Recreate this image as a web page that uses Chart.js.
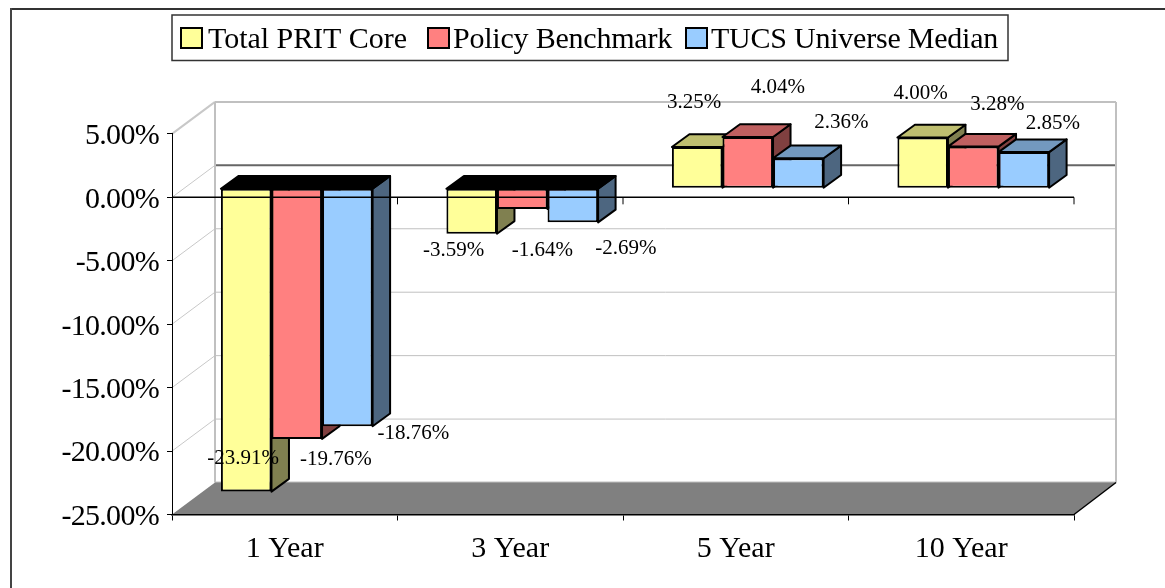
<!DOCTYPE html>
<html><head><meta charset="utf-8">
<style>html,body{margin:0;padding:0;background:#fff}canvas{display:block}</style>
<script src="https://cdn.jsdelivr.net/npm/chart.js@4/dist/chart.umd.min.js"></script>
</head><body>
<canvas id="c" width="1165" height="588"></canvas>
<script>
const categories = ['1 Year', '3 Year', '5 Year', '10 Year'];
const totalPritCore = [-23.91, -3.59, 3.25, 4.00];
const policyBenchmark = [-19.76, -1.64, 4.04, 3.28];
const tucsUniverseMedian = [-18.76, -2.69, 2.36, 2.85];
const seriesNames = ['Total PRIT Core', 'Policy Benchmark', 'TUCS Universe Median'];

const FONT = '"Liberation Serif", "Times New Roman", serif';
const fronts = ['#FFFF99', '#FF8080', '#99CCFF'];
const tops = ['#BFBF70', '#BF6060', '#7399BF'];
const sides = ['#808050', '#804040', '#4D6680'];
const WALL = {dx: 43, dy: -32};          // depth of the whole plot box
const SHIFT = {dx: 12, dy: -9.1};        // where the bars stand inside the box
const DEPTH = {dx: 17.5, dy: -12.7};     // depth of a bar
const labelNudge = [
  [[-3,-35],[-18,15],[-3,-46],[-2,-46]],
  [[39,19],[20,40],[30,-51],[24,-44]],
  [[66,6],[53,25],[43,-37],[29,-30]]
];
const legendSlots = [
  {box:181, text:208, end:407},
  {box:428, text:453, end:672},
  {box:686, text:711, end:998}
];

function poly(ctx, pts, fill, stroke, lw) {
  ctx.beginPath();
  pts.forEach((p, i) => i ? ctx.lineTo(p[0], p[1]) : ctx.moveTo(p[0], p[1]));
  ctx.closePath();
  if (fill) { ctx.fillStyle = fill; ctx.fill(); }
  if (stroke) { ctx.strokeStyle = stroke; ctx.lineWidth = lw; ctx.stroke(); }
}
function line(ctx, x1, y1, x2, y2, col, lw) {
  ctx.beginPath(); ctx.moveTo(x1, y1); ctx.lineTo(x2, y2);
  ctx.strokeStyle = col; ctx.lineWidth = lw; ctx.stroke();
}
function tweakLabels(scale, spacing, down) {
  if (scale._tweaked) return;
  scale._tweaked = true;
  const orig = scale.drawLabels;
  scale.drawLabels = function (area) {
    const ctx = this.ctx;
    ctx.save();
    ctx.letterSpacing = spacing;
    ctx.translate(0, down);
    orig.call(this, area);
    ctx.restore();
  };
}

const box3d = {
  id: 'box3d',
  beforeDraw(chart) {
    const {ctx, chartArea: a, scales: {x, y}} = chart;
    tweakLabels(y, '-0.7px', 2.5);
    tweakLabels(x, '0px', 3);
    ctx.save();
    // page frame
    line(ctx, 11, 9, 1165, 9, '#333', 2);
    line(ctx, 11, 8, 11, 588, '#444', 2);
    const L = a.left + WALL.dx, R = a.right + WALL.dx - 1;
    // gridlines on back and side wall
    y.ticks.forEach(t => {
      const py = y.getPixelForValue(t.value);
      if (t.value === y.min) return;
      const top = t.value === y.max;
      const zero = t.value === 0;
      line(ctx, L, py + WALL.dy, R, py + WALL.dy, zero ? '#666' : '#C0C0C0', top || zero ? 2 : 1);
      line(ctx, a.left, py, L, py + WALL.dy, '#C8C8C8', top ? 2 : 1);
    });
    const wt = y.getPixelForValue(y.max) + WALL.dy, wb = y.getPixelForValue(y.min) + WALL.dy;
    line(ctx, L, wt, L, wb, '#C0C0C0', 2);
    line(ctx, R, wt, R, wb, '#C0C0C0', 2);
    // floor
    const fy = y.getPixelForValue(y.min);
    line(ctx, L, wb, R, wb, '#C0C0C0', 2);
    poly(ctx, [[a.left, fy], [L, wb], [R, wb], [a.right, fy]], '#808080');
    line(ctx, a.right, fy, R, wb, '#000', 1.5);
    ctx.restore();

    // legend
    ctx.save();
    ctx.strokeStyle = '#333'; ctx.lineWidth = 1.5;
    ctx.strokeRect(172, 15, 836, 45.5);
    ctx.font = '30px ' + FONT; ctx.fillStyle = '#000';
    ctx.textBaseline = 'middle'; ctx.textAlign = 'left';
    chart.data.datasets.forEach((ds, i) => {
      const s = legendSlots[i];
      ctx.fillStyle = fronts[i]; ctx.fillRect(s.box, 28, 21, 20);
      ctx.strokeStyle = '#000'; ctx.lineWidth = 2; ctx.strokeRect(s.box, 28, 21, 20);
      ctx.letterSpacing = '0px';
      const w = ctx.measureText(ds.label).width;
      ctx.letterSpacing = ((s.end - s.text - w) / ds.label.length).toFixed(3) + 'px';
      ctx.fillStyle = '#000';
      ctx.fillText(ds.label, s.text, 40);
    });
    ctx.restore();
  },
  beforeDatasetsDraw(chart) {
    const ctx = chart.ctx;
    ctx.save();
    ctx.translate(SHIFT.dx, SHIFT.dy);
    ctx.lineJoin = 'round';
    chart.data.datasets.forEach((ds, i) => {
      chart.getDatasetMeta(i).data.forEach((el, j) => {
        const r = el.x + el.width / 2, l = el.x - el.width / 2;
        const t = Math.min(el.y, el.base), b = Math.max(el.y, el.base);
        const neg = ds.data[j] < 0;
        poly(ctx, [[r, t], [r + DEPTH.dx, t + DEPTH.dy], [r + DEPTH.dx, b + DEPTH.dy], [r, b]], sides[i], '#000', 2);
        poly(ctx, [[l, t], [l + DEPTH.dx, t + DEPTH.dy], [r + DEPTH.dx, t + DEPTH.dy], [r, t]], neg ? '#000' : tops[i], '#000', 2);
      });
    });
  },
  afterDatasetsDraw(chart) {
    const {ctx, chartArea: a, scales: {x, y}} = chart;
    ctx.restore();
    ctx.save();
    // zero axis drawn in front of the box
    const zy = y.getPixelForValue(0);
    line(ctx, a.left, zy, a.right, zy, '#000', 1.5);
    const half = (x.getPixelForValue(1) - x.getPixelForValue(0)) / 2;
    categories.forEach((c, i) => {
      const px = x.getPixelForValue(i) + half;
      line(ctx, px, zy, px, zy + 7, '#000', 1);
    });
    // data labels
    ctx.font = '21px ' + FONT;
    ctx.fillStyle = '#000';
    ctx.textAlign = 'center'; ctx.textBaseline = 'middle';
    chart.data.datasets.forEach((ds, i) => {
      chart.getDatasetMeta(i).data.forEach((el, j) => {
        const n = labelNudge[i][j];
        ctx.fillText(ds.data[j].toFixed(2) + '%', el.x + SHIFT.dx + n[0], el.y + SHIFT.dy + n[1] + 1.5);
      });
    });
    ctx.restore();
  }
};

new Chart(document.getElementById('c'), {
  type: 'bar',
  data: {
    labels: categories,
    datasets: [totalPritCore, policyBenchmark, tucsUniverseMedian].map((d, i) => ({
      label: seriesNames[i],
      data: d,
      backgroundColor: fronts[i],
      borderColor: '#000',
      borderWidth: 2,
      borderSkipped: false,
      clip: false,
      categoryPercentage: 0.6727,
      barPercentage: 1
    }))
  },
  plugins: [box3d],
  options: {
    responsive: false,
    animation: false,
    layout: {padding: {left: 0, top: 133.9, right: 91, bottom: 23.5}},
    plugins: {legend: {display: false}, tooltip: {enabled: false}},
    scales: {
      x: {
        grid: {display: true, drawOnChartArea: false, drawTicks: true, tickLength: 6, color: '#000', offset: true},
        border: {display: true, color: '#000', width: 1.5},
        ticks: {color: '#000', font: {family: FONT, size: 30}, padding: 8, maxRotation: 0},
        afterFit(s) { s.height = 50; }
      },
      y: {
        min: -25, max: 5,
        grid: {display: true, drawOnChartArea: false, drawTicks: true, tickLength: 5, color: '#000'},
        border: {display: true, color: '#000', width: 1},
        ticks: {
          stepSize: 5, color: '#000', padding: 8,
          font: {family: FONT, size: 30},
          callback: v => v.toFixed(2) + '%'
        },
        afterFit(s) { s.width = 172; }
      }
    }
  }
});
</script>
</body></html>
